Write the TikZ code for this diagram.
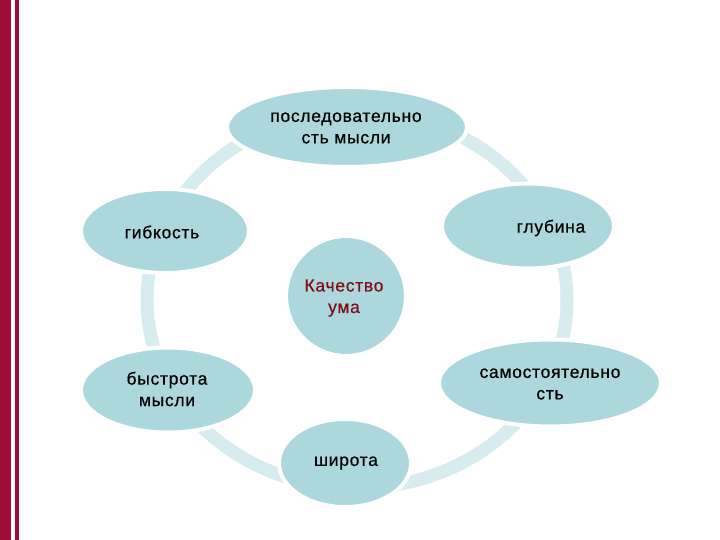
\documentclass[tikz,border=0pt]{standalone}
\usepackage{fontspec}
\setmainfont{Liberation Sans}[LetterSpace=4,FakeBold=0.6]
\usetikzlibrary{shapes.geometric}
\definecolor{barred}{RGB}{158,12,58}
\definecolor{fillc}{RGB}{172,215,221}
\definecolor{ringc}{RGB}{214,236,239}
\definecolor{darkred}{RGB}{130,14,24}
\begin{document}
\begin{tikzpicture}[x=1pt,y=-1pt,
  blob/.style={ellipse, inner sep=0pt, fill=fillc, draw=white, line width=4pt},
  lbl/.style={align=center, inner sep=0pt, font=\fontsize{17.5}{21.5}\selectfont, text=black}]
\useasboundingbox (0,0) rectangle (720,540);
\fill[white] (0,0) rectangle (720,540);
% left bars
\fill[barred] (0,0) rectangle (11,540);
\fill[barred] (15,0) rectangle (19,540);
% ring
\draw[ringc, line width=13pt] (357,300) ellipse [x radius=210, y radius=188];
% nodes
\node[blob, minimum width=240pt, minimum height=80pt] (top) at (347,127) {};
\node[blob, minimum width=168pt, minimum height=84pt] (flex) at (165,231) {};
\node[blob, minimum width=172pt, minimum height=85pt] (depth) at (528,226) {};
\node[blob, minimum width=174pt, minimum height=85pt] (speed) at (168,390) {};
\node[blob, minimum width=222pt, minimum height=87pt] (indep) at (550,383) {};
\node[blob, minimum width=132pt, minimum height=88pt] (width) at (345,463) {};
\node[blob, circle, minimum size=120pt] (core) at (346,296) {};
% texts
\node[lbl] (ttop) at (346,128) {последовательно\\сть мысли};
\node[lbl] (tflex) at (162,232) {гибкость};
\node[lbl] (tdepth) at (551,228) {глубина};
\node[lbl] (tspeed) at (167,389) {быстрота\\мысли};
\node[lbl] (tindep) at (550,384) {самостоятельно\\сть};
\node[lbl] (twidth) at (346,463) {широта};
\node[lbl, text=darkred] (tcore) at (344,298) {Качество\\ума};
\end{tikzpicture}
\end{document}
